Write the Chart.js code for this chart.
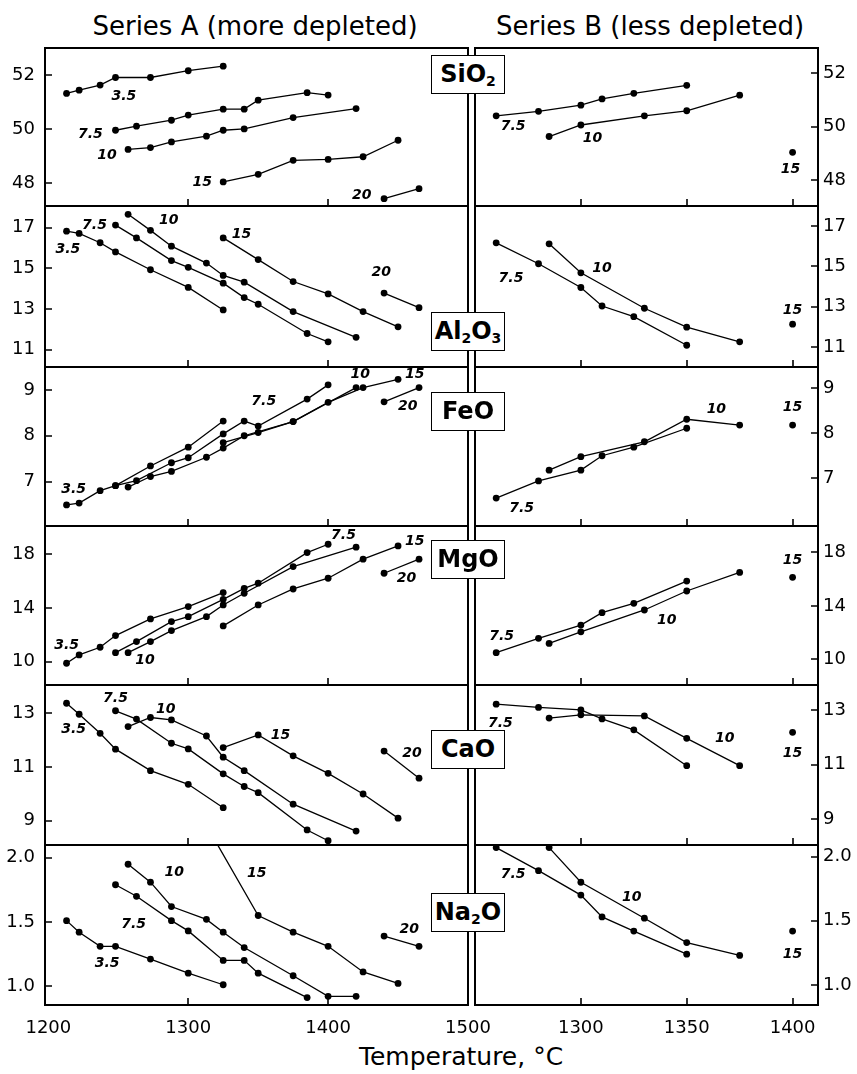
<!DOCTYPE html>
<html>
<head>
<meta charset="utf-8">
<script src="https://cdn.jsdelivr.net/npm/chart.js@4.4.1/dist/chart.umd.min.js"></script>
<style>
  html, body { margin:0; padding:0; background:#fff; }
  #wrap { position:relative; width:857px; height:1074px; overflow:hidden; font-family:'DejaVu Sans', sans-serif; color:#000; }
  #wrap canvas { position:absolute; }
  .title { position:absolute; font-size:26px; line-height:26px; white-space:nowrap; transform:translateX(-50%); }
  .ox { position:absolute; box-sizing:border-box; width:74px; height:39px; border:1.5px solid #000; background:#fff; font-weight:bold; font-size:24px; line-height:36px; text-align:center; z-index:5; white-space:nowrap; }
  .ox sub { font-size:14px; vertical-align:-4px; line-height:0; }
</style>
</head>
<body>
<div id="wrap">
  <div class="title" style="left:255px; top:13px;">Series A (more depleted)</div>
  <div class="title" style="left:650px; top:13px;">Series B (less depleted)</div>
  <div class="title" style="left:461px; top:1044px; font-size:25px; line-height:25px;">Temperature, °C</div>
</div>
<script>
// ---------- temperatures (°C) for each experimental series ----------
const T_A_35 = [1213,1222,1237,1248,1273,1300,1325];
const T_A_75 = [1248,1263,1288,1300,1325,1340,1350,1385,1400];
const T_A_10 = [1257,1273,1288,1313,1325,1340,1375,1420];
const T_A_15 = [1325,1350,1375,1400,1425,1450];
const T_A_20 = [1440,1465];
const T_A_75_Na = [1248,1263,1288,1300,1325,1340,1350,1385];
const T_A_10_Na = [1257,1273,1288,1313,1325,1340,1375,1400,1420];
const T_A_15_Na = [1300,1350,1375,1400,1425,1450];
const T_B_75 = [1260,1280,1300,1310,1325,1350];
const T_B_10 = [1285,1300,1330,1350,1375];
const T_B_15 = [1400];

// ---------- oxide values (wt%) ----------
const SiO2_A_35 = [51.32,51.44,51.63,51.91,51.91,52.16,52.33];
const SiO2_A_75 = [49.96,50.11,50.33,50.52,50.74,50.74,51.07,51.35,51.26];
const SiO2_A_10 = [49.25,49.32,49.53,49.74,49.96,50.01,50.43,50.76];
const SiO2_A_15 = [48.05,48.33,48.85,48.88,48.98,49.59];
const SiO2_A_20 = [47.43,47.80];
const SiO2_B_75 = [50.40,50.57,50.80,51.03,51.24,51.54];
const SiO2_B_10 = [49.63,50.06,50.40,50.59,51.17];
const SiO2_B_15 = [49.04];

const Al2O3_A_35 = [16.83,16.72,16.26,15.81,14.93,14.06,12.95];
const Al2O3_A_75 = [17.13,16.50,15.38,15.05,14.27,13.56,13.23,11.79,11.38];
const Al2O3_A_10 = [17.66,16.87,16.09,15.26,14.65,14.32,12.87,11.60];
const Al2O3_A_15 = [16.50,15.43,14.35,13.74,12.87,12.12];
const Al2O3_A_20 = [13.78,13.06];
const Al2O3_B_75 = [16.17,15.13,13.95,13.03,12.50,11.08];
const Al2O3_B_10 = [16.12,14.68,12.92,11.98,11.25];
const Al2O3_B_15 = [12.13];

const FeO_A_35 = [6.49,6.53,6.80,6.91,7.34,7.75,8.32];
const FeO_A_75 = [6.91,7.02,7.41,7.52,8.04,8.32,8.21,8.80,9.11];
const FeO_A_10 = [6.88,7.11,7.22,7.53,7.73,8.00,8.31,9.05];
const FeO_A_15 = [7.85,8.07,8.31,8.73,9.05,9.23];
const FeO_A_20 = [8.74,9.05];
const FeO_B_75 = [6.56,6.94,7.18,7.50,7.69,8.11];
const FeO_B_10 = [7.18,7.48,7.81,8.31,8.18];
const FeO_B_15 = [8.18];

const MgO_A_35 = [9.88,10.50,11.07,11.94,13.18,14.10,15.14];
const MgO_A_75 = [10.67,11.49,12.98,13.35,14.64,15.46,15.84,18.12,18.74];
const MgO_A_10 = [10.67,11.49,12.31,13.35,14.22,15.09,17.08,18.52];
const MgO_A_15 = [12.66,14.22,15.41,16.21,17.63,18.62];
const MgO_A_20 = [16.58,17.63];
const MgO_B_75 = [10.50,11.57,12.56,13.49,14.19,15.85];
const MgO_B_10 = [11.19,12.06,13.69,15.11,16.50];
const MgO_B_15 = [16.13];

const CaO_A_35 = [13.37,12.96,12.25,11.66,10.86,10.35,9.48];
const CaO_A_75 = [13.09,12.78,11.88,11.67,10.74,10.27,10.04,8.65,8.25];
const CaO_A_10 = [12.50,12.84,12.75,12.15,11.36,10.86,9.61,8.61];
const CaO_A_15 = [11.72,12.19,11.41,10.76,9.99,9.09];
const CaO_A_20 = [11.59,10.58];
const CaO_B_75 = [13.21,13.09,13.00,12.67,12.27,10.96];
const CaO_B_10 = [12.70,12.82,12.78,11.96,10.96];
const CaO_B_15 = [12.18];

const Na2O_A_35 = [1.51,1.42,1.31,1.31,1.21,1.10,1.01];
const Na2O_A_75 = [1.79,1.70,1.51,1.43,1.20,1.20,1.10,0.91];
const Na2O_A_10 = [1.95,1.81,1.62,1.52,1.42,1.30,1.08,0.92,0.92];
const Na2O_A_15 = [2.50,1.55,1.42,1.31,1.11,1.02];
const Na2O_A_20 = [1.39,1.31];
const Na2O_B_75 = [2.07,1.89,1.70,1.53,1.42,1.24];
const Na2O_B_10 = [2.07,1.80,1.52,1.33,1.23];
const Na2O_B_15 = [1.42];

// ---------- series labels: [text, temperature, value] ----------
const LAB_SiO2_A = [["3.5",1254,51.20],["7.5",1230,49.81],["10",1242,49.04],["15",1310,48.05],["20",1424,47.56]];
const LAB_SiO2_B = [["7.5",1268,50.0],["10",1305.5,49.57],["15",1399,48.40]];
const LAB_Al2O3_A = [["3.5",1214,15.92],["7.5",1233,17.13],["10",1286,17.36],["15",1338,16.67],["20",1438,14.82]];
const LAB_Al2O3_B = [["7.5",1267,14.42],["10",1310,14.92],["15",1400,12.83]];
const LAB_FeO_A = [["3.5",1218,6.82],["7.5",1354,8.74],["10",1423,9.33],["15",1462,9.33],["20",1457,8.64]];
const LAB_FeO_B = [["7.5",1272,6.33],["10",1364,8.53],["15",1400,8.57]];
const LAB_MgO_A = [["3.5",1213,11.24],["7.5",1411,19.44],["10",1269,10.12],["15",1462,18.94],["20",1456,16.21]];
const LAB_MgO_B = [["7.5",1262.6,11.74],["10",1340.6,12.94],["15",1400,17.42]];
const LAB_CaO_A = [["3.5",1218,12.38],["7.5",1248,13.56],["10",1284,13.15],["15",1366,12.19],["20",1460,11.51]];
const LAB_CaO_B = [["7.5",1262,12.51],["10",1368,11.96],["15",1400,11.41]];
const LAB_Na2O_A = [["3.5",1242,1.18],["7.5",1261,1.48],["10",1290,1.89],["15",1349,1.88],["20",1458,1.44]];
const LAB_Na2O_B = [["7.5",1268,1.86],["10",1324,1.68],["15",1400,1.24]];

// ---------- axis ticks and ranges ----------
const X_TICKS_A = [1200,1300,1400,1500];
const X_TICKS_B = [1300,1350,1400];
const X_RANGE_A = [1197.6,1500];
const X_RANGE_B = [1250,1412];
const Y_TICKS_SiO2 = [48,50,52];
const Y_TICKS_Al2O3 = [11,13,15,17];
const Y_TICKS_FeO = [7,8,9];
const Y_TICKS_MgO = [10,14,18];
const Y_TICKS_CaO = [9,11,13];
const Y_TICKS_Na2O = [1.0,1.5,2.0];
const OXIDES = ['SiO<sub>2</sub>','Al<sub>2</sub>O<sub>3</sub>','FeO','MgO','CaO','Na<sub>2</sub>O'];

// ---------- layout ----------
const ROW_EDGES = [48,206,367,526,685,845,1005];
const OX_TOPS = [55,312,392,540,730,893];

const ROWS = [
  {A:[[T_A_35,SiO2_A_35],[T_A_75,SiO2_A_75],[T_A_10,SiO2_A_10],[T_A_15,SiO2_A_15],[T_A_20,SiO2_A_20]],
   B:[[T_B_75,SiO2_B_75],[T_B_10,SiO2_B_10],[T_B_15,SiO2_B_15]],
   labA:LAB_SiO2_A, labB:LAB_SiO2_B, yA:[47.16,53.0], yB:[47.04,52.93], yt:Y_TICKS_SiO2, dec:0},
  {A:[[T_A_35,Al2O3_A_35],[T_A_75,Al2O3_A_75],[T_A_10,Al2O3_A_10],[T_A_15,Al2O3_A_15],[T_A_20,Al2O3_A_20]],
   B:[[T_B_75,Al2O3_B_75],[T_B_10,Al2O3_B_10],[T_B_15,Al2O3_B_15]],
   labA:LAB_Al2O3_A, labB:LAB_Al2O3_B, yA:[10.14,18.07], yB:[10.0,18.0], yt:Y_TICKS_Al2O3, dec:0},
  {A:[[T_A_35,FeO_A_35],[T_A_75,FeO_A_75],[T_A_10,FeO_A_10],[T_A_15,FeO_A_15],[T_A_20,FeO_A_20]],
   B:[[T_B_75,FeO_B_75],[T_B_10,FeO_B_10],[T_B_15,FeO_B_15]],
   labA:LAB_FeO_A, labB:LAB_FeO_B, yA:[6.03,9.50], yB:[5.94,9.47], yt:Y_TICKS_FeO, dec:0},
  {A:[[T_A_35,MgO_A_35],[T_A_75,MgO_A_75],[T_A_10,MgO_A_10],[T_A_15,MgO_A_15],[T_A_20,MgO_A_20]],
   B:[[T_B_75,MgO_B_75],[T_B_10,MgO_B_10],[T_B_15,MgO_B_15]],
   labA:LAB_MgO_A, labB:LAB_MgO_B, yA:[8.26,20.1], yB:[8.08,19.97], yt:Y_TICKS_MgO, dec:0},
  {A:[[T_A_35,CaO_A_35],[T_A_75,CaO_A_75],[T_A_10,CaO_A_10],[T_A_15,CaO_A_15],[T_A_20,CaO_A_20]],
   B:[[T_B_75,CaO_B_75],[T_B_10,CaO_B_10],[T_B_15,CaO_B_15]],
   labA:LAB_CaO_A, labB:LAB_CaO_B, yA:[8.09,14.05], yB:[8.06,13.91], yt:Y_TICKS_CaO, dec:0},
  {A:[[T_A_35,Na2O_A_35],[T_A_75_Na,Na2O_A_75],[T_A_10_Na,Na2O_A_10],[T_A_15_Na,Na2O_A_15],[T_A_20,Na2O_A_20]],
   B:[[T_B_75,Na2O_B_75],[T_B_10,Na2O_B_10],[T_B_15,Na2O_B_15]],
   labA:LAB_Na2O_A, labB:LAB_Na2O_B, yA:[0.852,2.10], yB:[0.844,2.09], yt:Y_TICKS_Na2O, dec:1}
];

Chart.defaults.font.family = "'DejaVu Sans', sans-serif";
Chart.defaults.color = '#000';

const wrap = document.getElementById('wrap');

function makeChart(col, r, spec) {
  const top = ROW_EDGES[r], bot = ROW_EDGES[r+1];
  const last = (r === ROWS.length - 1);
  const padT = 4, padB = last ? 0 : 4, xH = last ? 40 : 0;
  const isA = col === 'A';
  const cv = document.createElement('canvas');
  cv.width = isA ? 500 : 385;
  cv.height = padT + (bot - top) + padB + xH;
  cv.style.left = (isA ? 0 : 472) + 'px';
  cv.style.top = (top - padT) + 'px';
  wrap.appendChild(cv);

  const series = isA ? spec.A : spec.B;
  const labels = isA ? spec.labA : spec.labB;
  const xt = isA ? X_TICKS_A : X_TICKS_B;
  const xr = isA ? X_RANGE_A : X_RANGE_B;
  const yr = isA ? spec.yA : spec.yB;
  const yt = spec.yt;
  const side = isA ? 'left' : 'right';

  const datasets = series.map(([T, V]) => {
    const outside = V.some(v => v > yr[1] || v < yr[0]);
    return {
      data: T.map((t, i) => ({x: t, y: V[i]})),
      showLine: true, borderColor: '#000', borderWidth: 1.3, tension: 0,
      pointRadius: 3.4, pointHoverRadius: 3.4, pointBackgroundColor: '#000',
      pointBorderWidth: 0, clip: outside ? 0 : 5
    };
  });

  const frame = {
    id: 'frame' + col + r,
    afterDatasetsDraw(chart) {
      const {ctx, chartArea: a} = chart;
      const xs = chart.scales.x, ys = chart.scales.y;
      ctx.save();
      ctx.fillStyle = '#000';
      ctx.font = 'italic bold 14px "DejaVu Sans"';
      ctx.textAlign = 'center'; ctx.textBaseline = 'middle';
      labels.forEach(([t, x, y]) => ctx.fillText(t, xs.getPixelForValue(x), ys.getPixelForValue(y)));
      ctx.strokeStyle = '#000';
      ctx.lineWidth = 2;
      ctx.strokeRect(a.left, a.top, a.right - a.left, a.bottom - a.top);
      ctx.lineWidth = 1.6;
      ctx.beginPath();
      xt.forEach(v => {
        const p = Math.round(xs.getPixelForValue(v));
        if (p > a.left + 3 && p < a.right - 3) { ctx.moveTo(p, a.bottom); ctx.lineTo(p, a.bottom - 7); }
      });
      yt.forEach(v => {
        const p = Math.round(ys.getPixelForValue(v));
        if (isA) { ctx.moveTo(a.left, p); ctx.lineTo(a.left + 7, p); }
        else { ctx.moveTo(a.right, p); ctx.lineTo(a.right - 7, p); }
      });
      ctx.stroke();
      ctx.restore();
    }
  };

  new Chart(cv, {
    type: 'scatter',
    data: {datasets},
    options: {
      responsive: false, animation: false, devicePixelRatio: 1,
      events: [],
      layout: {autoPadding: false, padding: {left: isA ? 0 : 3, right: isA ? 32 : 0, top: padT, bottom: padB}},
      plugins: {legend: {display: false}, tooltip: {enabled: false}},
      scales: {
        x: {
          type: 'linear', min: xr[0], max: xr[1], display: last,
          grid: {display: false, drawTicks: false}, border: {display: false},
          ticks: {font: {size: 18}, padding: 13, color: '#000', maxRotation: 0, autoSkip: false,
                  callback: v => String(v)},
          afterBuildTicks: s => { s.ticks = xt.map(v => ({value: v})); },
          afterFit: s => { s.height = last ? 40 : 0; s.paddingLeft = 0; s.paddingRight = 0; }
        },
        y: {
          type: 'linear', position: side, min: yr[0], max: yr[1],
          grid: {display: false, drawTicks: false}, border: {display: false},
          ticks: {font: {size: 18}, padding: isA ? 10 : 5, color: '#000', autoSkip: false,
                  callback: v => Number(v).toFixed(spec.dec)},
          afterBuildTicks: s => { s.ticks = yt.map(v => ({value: v})); },
          afterFit: s => { s.width = isA ? 45 : 39; s.paddingTop = 0; s.paddingBottom = 0; }
        }
      }
    },
    plugins: [frame]
  });
}

ROWS.forEach((spec, r) => { makeChart('A', r, spec); makeChart('B', r, spec); });

OXIDES.forEach((html, r) => {
  const d = document.createElement('div');
  d.className = 'ox';
  d.innerHTML = html;
  d.style.left = '431px';
  d.style.top = OX_TOPS[r] + 'px';
  wrap.appendChild(d);
});
</script>
</body>
</html>
